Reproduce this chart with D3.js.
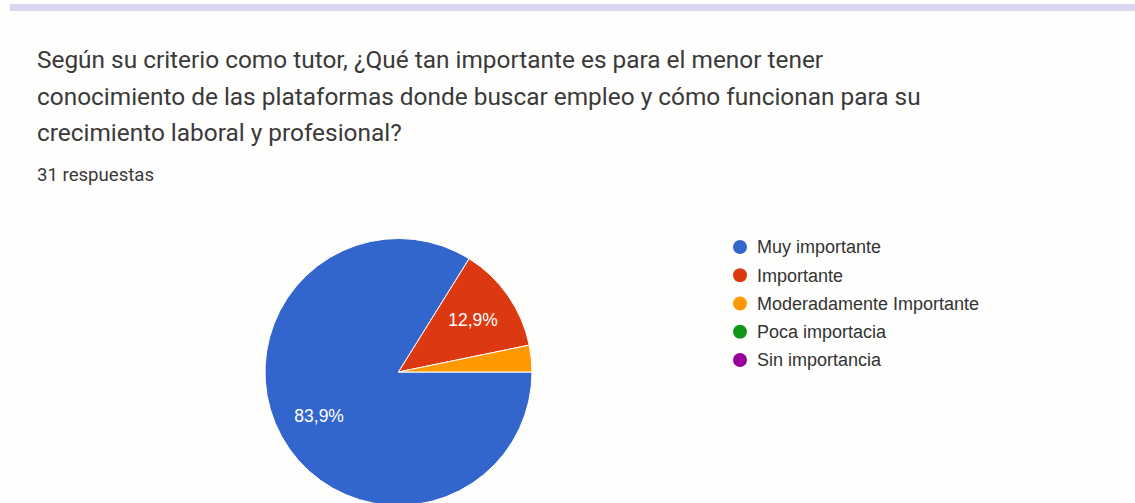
<!DOCTYPE html>
<html><head><meta charset="utf-8">
<script src="https://cdn.jsdelivr.net/npm/d3@7"></script>
<style>
html,body{margin:0;padding:0;background:#fefefd;}
svg{display:block;}
</style></head>
<body>
<svg id="chart" width="1135" height="503"></svg>
<script>
const titleLines = [
  "Según su criterio como tutor, ¿Qué tan importante es para el menor tener",
  "conocimiento de las plataformas donde buscar empleo y cómo funcionan para su",
  "crecimiento laboral y profesional?"
];
const subtitle = "31 respuestas";
const categories = ["Muy importante", "Importante", "Moderadamente Importante", "Poca importacia", "Sin importancia"];
const counts = [26, 4, 1, 0, 0];
const colors = ["#3366cc", "#dc3912", "#ff9900", "#109618", "#990099"];

const svg = d3.select("#chart");
const W = 1135, H = 503;

svg.append("rect").attr("x", 0).attr("y", 0).attr("width", W).attr("height", H).attr("fill", "#fefefd");
// top band
svg.append("rect").attr("x", 10).attr("y", 4).attr("width", W - 10).attr("height", 7).attr("fill", "#d9d6ef");

// title
const title = svg.append("text")
  .attr("font-family", "Roboto, sans-serif")
  .attr("font-size", 24.4)
  .attr("fill", "#3a3a3a");
titleLines.forEach((t, i) => {
  title.append("tspan").attr("x", 37).attr("y", 68 + i * 36.5).text(t);
});
svg.append("text")
  .attr("x", 37).attr("y", 181)
  .attr("font-family", "Roboto, sans-serif")
  .attr("font-size", 18.6)
  .attr("fill", "#3a3a3a")
  .text(subtitle);

// pie
const cx = 398.5, cy = 372, R = 133.5;
const total = d3.sum(counts);
const color = d3.scaleOrdinal().domain(categories).range(colors);
const pie = d3.pie().sort(null).value(d => d.v)
  .startAngle(Math.PI / 2).endAngle(Math.PI / 2 + 2 * Math.PI);
const data = categories.map((c, i) => ({ c, v: counts[i] }));
const arcs = pie(data);
const arc = d3.arc().innerRadius(0).outerRadius(R);
const labelArc = d3.arc().innerRadius(R * 0.68).outerRadius(R * 0.68);

const g = svg.append("g").attr("transform", `translate(${cx},${cy})`);
g.selectAll("path").data(arcs.filter(d => d.data.v > 0)).join("path")
  .attr("d", arc)
  .attr("fill", d => color(d.data.c))
  .attr("stroke", "#ffffff")
  .attr("stroke-width", 1);

const fmt = v => (v * 100).toFixed(1).replace(".", ",") + "%";
g.selectAll("text.lbl").data(arcs.filter(d => d.data.v / total > 0.05)).join("text")
  .attr("class", "lbl")
  .attr("transform", d => `translate(${labelArc.centroid(d)})`)
  .attr("text-anchor", "middle")
  .attr("dy", "0.35em")
  .attr("font-family", "Arial, 'Liberation Sans', sans-serif")
  .attr("font-size", 17.5)
  .attr("fill", "#ffffff")
  .text(d => fmt(d.data.v / total));

// legend
const ly = d3.scalePoint().domain(categories).range([247, 360]);
const leg = svg.append("g");
const items = leg.selectAll("g").data(categories).join("g")
  .attr("transform", d => `translate(740,${ly(d)})`);
items.append("circle").attr("r", 7).attr("fill", d => color(d));
items.append("text")
  .attr("x", 17).attr("dy", "0.35em")
  .attr("font-family", "Arial, 'Liberation Sans', sans-serif")
  .attr("font-size", 18)
  .attr("fill", "#333333")
  .text(d => d);
</script>
</body></html>
